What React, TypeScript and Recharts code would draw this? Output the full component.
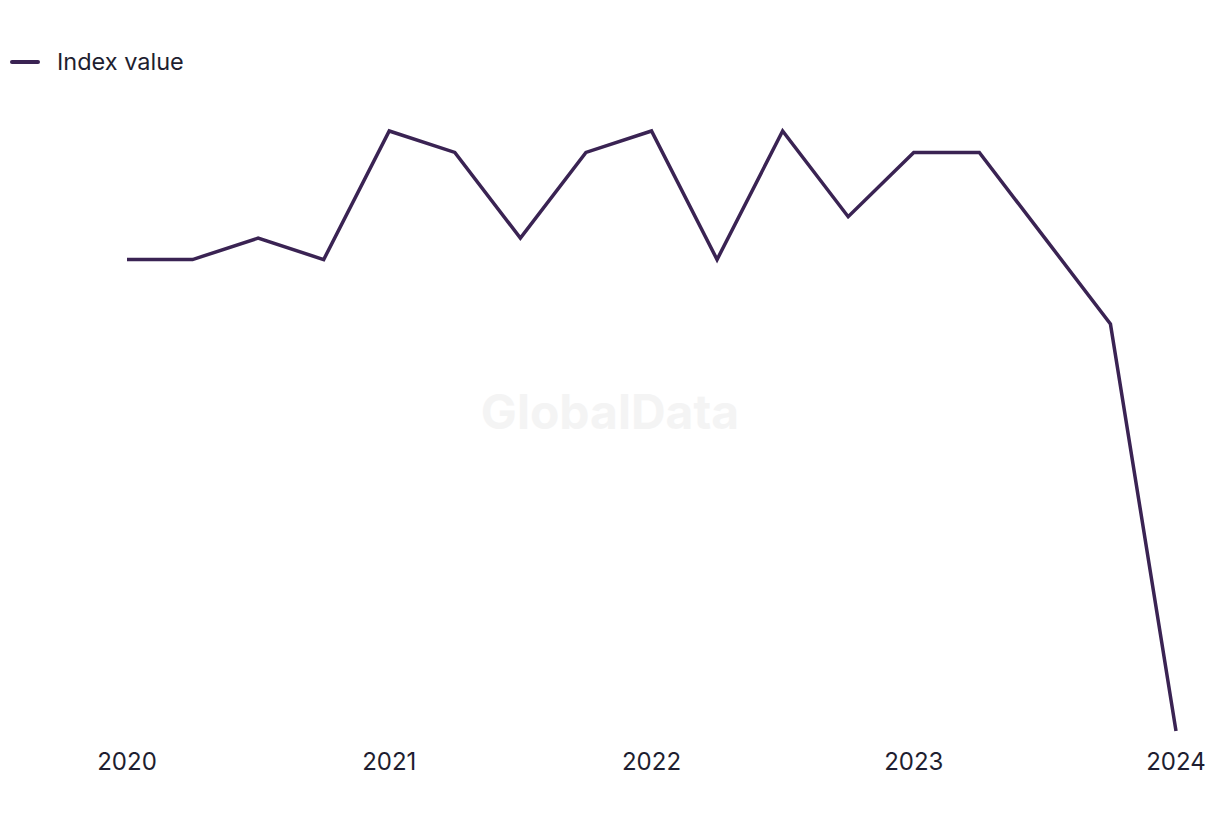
import { LineChart, Line, XAxis, YAxis, Legend } from "recharts";

const quarters = [
  "2020 Q1", "2020 Q2", "2020 Q3", "2020 Q4",
  "2021 Q1", "2021 Q2", "2021 Q3", "2021 Q4",
  "2022 Q1", "2022 Q2", "2022 Q3", "2022 Q4",
  "2023 Q1", "2023 Q2", "2023 Q3", "2023 Q4",
  "2024 Q1",
];
const indexValues = [50, 50, 51, 50, 56, 55, 51, 55, 56, 50, 56, 52, 55, 55, 51, 47, 28];

const data = quarters.map((q, i) => ({ quarter: q, value: indexValues[i] }));

const LINE = "#3a2353";
const TEXT = "#1e1e30";
const FONT = "Inter, 'Noto Sans', sans-serif";

function LegendContent() {
  return (
    <div style={{ display: "flex", alignItems: "center", fontFamily: FONT, fontSize: 23.5, color: TEXT }}>
      <span style={{ display: "inline-block", width: 30, height: 4, borderRadius: 2, background: LINE, marginRight: 17 }} />
      Index value
    </div>
  );
}

export default function App() {
  return (
    <div style={{ position: "absolute", left: 0, top: 0, width: 1220, height: 820, background: "#fff" }}>
      <div
        style={{
          position: "absolute",
          left: 0,
          width: 1220,
          top: 382,
          textAlign: "center",
          fontFamily: FONT,
          fontWeight: 700,
          fontSize: 48,
          color: "#f4f4f4",
        }}
      >
        GlobalData
      </div>
      <LineChart width={1220} height={820} data={data} margin={{ top: 102, right: 44, bottom: 29, left: 127 }}>
        <XAxis
          dataKey="quarter"
          interval={3}
          axisLine={false}
          tickLine={false}
          height={60}
          tick={{ fill: TEXT, fontSize: 24, fontFamily: FONT }}
          tickFormatter={(v: string) => v.slice(0, 4)}
          dy={14}
          padding={{ left: 0, right: 0 }}
        />
        <YAxis hide domain={["dataMin", "dataMax"]} />
        <Legend
          verticalAlign="top"
          align="left"
          content={<LegendContent />}
          wrapperStyle={{ position: "absolute", left: 10, top: 47 }}
        />
        <Line
          type="linear"
          dataKey="value"
          name="Index value"
          stroke={LINE}
          strokeWidth={3.5}
          dot={false}
          isAnimationActive={false}
        />
      </LineChart>
    </div>
  );
}
